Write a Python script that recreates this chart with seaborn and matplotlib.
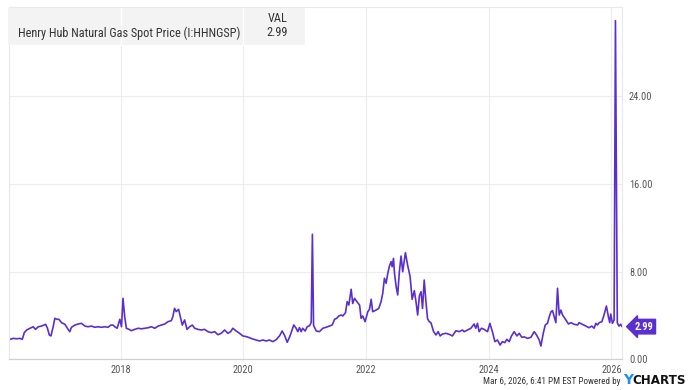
import matplotlib
matplotlib.use("Agg")
import matplotlib.pyplot as plt
from matplotlib import font_manager
from matplotlib.patches import Rectangle
import seaborn as sns
import pandas as pd

dates = [
    "2016-03-03", "2016-03-11", "2016-03-31", "2016-04-20", "2016-05-10", "2016-05-24",
    "2016-06-05", "2016-06-19", "2016-07-09", "2016-07-28", "2016-08-11", "2016-08-27",
    "2016-09-16", "2016-10-10", "2016-10-21", "2016-11-01", "2016-11-11", "2016-11-24",
    "2016-12-04", "2016-12-15", "2016-12-28", "2017-01-13", "2017-02-02", "2017-02-21",
    "2017-03-03", "2017-03-13", "2017-04-02", "2017-04-22", "2017-05-12", "2017-06-01",
    "2017-06-20", "2017-07-10", "2017-07-30", "2017-08-18", "2017-09-08", "2017-09-27",
    "2017-10-17", "2017-11-02", "2017-11-16", "2017-11-26", "2017-12-10", "2017-12-26",
    "2018-01-05", "2018-01-14", "2018-01-24", "2018-02-03", "2018-02-19", "2018-03-05",
    "2018-03-25", "2018-04-14", "2018-05-04", "2018-05-24", "2018-06-13", "2018-07-02",
    "2018-07-22", "2018-08-11", "2018-08-31", "2018-09-20", "2018-10-09", "2018-10-29",
    "2018-11-07", "2018-11-17", "2018-11-27", "2018-12-11", "2018-12-21", "2019-01-02",
    "2019-01-16", "2019-01-30", "2019-02-15", "2019-03-03", "2019-03-17", "2019-04-06",
    "2019-04-25", "2019-05-15", "2019-06-04", "2019-06-24", "2019-07-14", "2019-08-02",
    "2019-08-22", "2019-09-11", "2019-10-01", "2019-10-17", "2019-10-30", "2019-11-19",
    "2019-12-09", "2019-12-29", "2020-01-18", "2020-02-06", "2020-02-26", "2020-03-17",
    "2020-04-06", "2020-04-26", "2020-05-16", "2020-06-04", "2020-06-24", "2020-07-14",
    "2020-08-03", "2020-08-19", "2020-09-02", "2020-09-18", "2020-10-01", "2020-10-15",
    "2020-10-27", "2020-11-10", "2020-11-20", "2020-11-30", "2020-12-10", "2020-12-19",
    "2021-01-03", "2021-01-15", "2021-01-29", "2021-02-08", "2021-02-15", "2021-02-22",
    "2021-03-10", "2021-03-29", "2021-04-18", "2021-05-08", "2021-05-28", "2021-06-13",
    "2021-06-27", "2021-07-10", "2021-07-22", "2021-08-06", "2021-08-15", "2021-08-31",
    "2021-09-10", "2021-09-20", "2021-10-04", "2021-10-13", "2021-10-24", "2021-11-07",
    "2021-11-23", "2021-12-02", "2021-12-12", "2021-12-26", "2022-01-11", "2022-01-21",
    "2022-01-31", "2022-02-09", "2022-03-01", "2022-03-17", "2022-03-31", "2022-04-10",
    "2022-04-20", "2022-04-30", "2022-05-10", "2022-05-20", "2022-05-30", "2022-06-05",
    "2022-06-13", "2022-06-19", "2022-06-29", "2022-07-08", "2022-07-18", "2022-07-28",
    "2022-08-07", "2022-08-23", "2022-09-05", "2022-09-20", "2022-10-02", "2022-10-15",
    "2022-10-25", "2022-11-04", "2022-11-14", "2022-11-24", "2022-12-03", "2022-12-13",
    "2022-12-23", "2023-01-02", "2023-01-12", "2023-01-22", "2023-02-07", "2023-02-21",
    "2023-03-06", "2023-03-18", "2023-04-01", "2023-04-21", "2023-05-11", "2023-05-30",
    "2023-06-20", "2023-07-09", "2023-07-29", "2023-08-08", "2023-08-28", "2023-09-17",
    "2023-10-06", "2023-10-16", "2023-10-26", "2023-11-05", "2023-11-19", "2023-12-05",
    "2023-12-25", "2024-01-08", "2024-01-23", "2024-02-07", "2024-02-22", "2024-03-09",
    "2024-03-22", "2024-04-06", "2024-04-18", "2024-05-02", "2024-05-16", "2024-06-01",
    "2024-06-17", "2024-07-01", "2024-07-16", "2024-07-31", "2024-08-20", "2024-09-09",
    "2024-09-28", "2024-10-12", "2024-10-28", "2024-11-07", "2024-11-21", "2024-12-03",
    "2024-12-16", "2024-12-27", "2025-01-06", "2025-01-15", "2025-01-25", "2025-02-04",
    "2025-02-14", "2025-02-24", "2025-03-06", "2025-03-16", "2025-04-05", "2025-04-20",
    "2025-05-05", "2025-05-24", "2025-06-13", "2025-06-23", "2025-07-12", "2025-08-02",
    "2025-08-21", "2025-09-06", "2025-09-20", "2025-09-30", "2025-10-10", "2025-10-20",
    "2025-11-05", "2025-11-18", "2025-12-02", "2025-12-14", "2025-12-22", "2025-12-28",
    "2026-01-07", "2026-01-17", "2026-01-25", "2026-02-05", "2026-02-15", "2026-02-25",
    "2026-03-05",
]

prices = [
    1.62, 1.83, 1.92, 1.88, 1.92, 1.83,
    2.44, 2.68, 2.84, 2.98, 2.74, 2.98,
    3.04, 3.20, 2.84, 2.23, 2.14, 2.98,
    3.75, 3.66, 3.66, 3.35, 3.20, 2.74,
    2.53, 2.93, 3.13, 3.23, 3.29, 3.04,
    2.98, 3.04, 2.93, 2.98, 2.93, 2.98,
    2.93, 3.13, 3.13, 2.98, 2.84, 3.66,
    2.98, 5.57, 3.90, 2.84, 2.74, 2.62,
    2.74, 2.84, 2.79, 2.84, 2.89, 2.98,
    2.84, 3.04, 3.13, 3.23, 3.44, 3.54,
    3.90, 4.66, 4.36, 4.57, 3.90, 3.13,
    3.60, 2.74, 2.98, 3.13, 2.84, 2.74,
    2.68, 2.74, 2.53, 2.44, 2.53, 2.25,
    2.38, 2.68, 2.38, 2.53, 2.84, 2.59,
    2.38, 2.14, 2.08, 1.98, 1.86, 1.77,
    1.68, 1.77, 1.68, 1.77, 1.62, 1.80,
    2.14, 2.59, 2.20, 1.56, 2.00, 2.59,
    3.14, 2.84, 2.53, 2.90, 2.53, 2.84,
    2.59, 2.98, 3.07, 3.38, 11.41, 3.10,
    2.59, 2.53, 2.84, 2.93, 3.05, 3.14,
    3.66, 3.75, 3.96, 4.05, 3.96, 4.26,
    5.27, 4.96, 6.40, 5.10, 5.57, 5.27,
    4.96, 3.75, 3.96, 3.44, 4.35, 4.57,
    5.48, 4.35, 4.50, 4.65, 5.27, 6.03,
    7.40, 6.94, 7.86, 8.52, 8.92, 8.45,
    9.22, 7.86, 6.63, 5.88, 8.00, 9.43,
    8.00, 9.74, 8.61, 7.56, 5.48, 6.27,
    5.27, 4.05, 5.79, 6.18, 4.65, 7.24,
    5.30, 3.70, 3.44, 3.35, 2.53, 2.23,
    2.53, 2.14, 2.32, 2.38, 2.29, 2.14,
    2.62, 2.53, 2.68, 2.53, 2.68, 2.84,
    3.23, 2.84, 3.29, 2.53, 2.84, 2.74,
    2.53, 3.29, 2.53, 1.62, 1.77, 1.31,
    1.62, 1.53, 1.83, 1.62, 2.14, 2.53,
    2.14, 2.38, 2.02, 2.05, 1.92, 2.02,
    2.53, 2.23, 1.77, 1.22, 2.38, 3.14,
    3.29, 3.90, 4.35, 4.45, 3.90, 3.35,
    6.49, 4.05, 4.50, 4.05, 3.60, 3.23,
    3.35, 3.20, 3.14, 3.35, 3.20, 3.04,
    2.89, 3.04, 2.84, 3.29, 3.14, 3.35,
    3.44, 4.05, 4.87, 3.90, 3.35, 4.14,
    3.29, 3.60, 30.90, 3.35, 3.04, 3.20,
    2.99,
]

y_ticks = [0, 8, 16, 24]
y_tick_labels = ["0.00", "8.00", "16.00", "24.00"]
x_tick_years = ["2018", "2020", "2022", "2024", "2026"]
series_name = "Henry Hub Natural Gas Spot Price (I:HHNGSP)"
last_value = "2.99"

LINE = "#5a2fd0"
GRID = "#ececec"
TXT = "#555555"

sns.set_theme(style="white")
available = {f.name for f in font_manager.fontManager.ttflist}
fam = "Roboto Condensed" if "Roboto Condensed" in available else "Roboto"
plt.rcParams["font.family"] = [fam, "DejaVu Sans"]

df = pd.DataFrame({"date": pd.to_datetime(dates), "price": prices})

fig = plt.figure(figsize=(6.9, 3.9), dpi=100)
ax = fig.add_axes([8.5 / 690, 1 - 359.4 / 390, (622 - 8.5) / 690, (359.4 - 7) / 390])

sns.lineplot(data=df, x="date", y="price", ax=ax, color=LINE, linewidth=1.2)

ax.set_xlim(pd.Timestamp("2016-03-03"), pd.Timestamp("2026-03-05"))
ax.set_ylim(0, 32.15)
ax.set_xlabel("")
ax.set_ylabel("")

ax.set_yticks(y_ticks)
ax.set_yticklabels(y_tick_labels)
ax.yaxis.tick_right()
ax.tick_params(axis="y", length=0, pad=5, labelsize=7.5, labelcolor=TXT)

xt = [pd.Timestamp(f"{y}-01-01") for y in x_tick_years]
ax.set_xticks(xt)
ax.set_xticklabels(x_tick_years)
ax.tick_params(axis="x", length=0, pad=4, labelsize=7.5, labelcolor=TXT)

ax.grid(True, color=GRID, linewidth=0.8)
ax.set_axisbelow(True)
for s in ["top", "right", "left"]:
    ax.spines[s].set_color("#e8e8e8")
    ax.spines[s].set_linewidth(0.8)
ax.spines["bottom"].set_color("#d0d0d0")
ax.spines["bottom"].set_linewidth(0.9)

# last value tag
ax.annotate(last_value, xy=(1, 2.99), xycoords=("axes fraction", "data"),
            xytext=(9, 0), textcoords="offset points", ha="left", va="center",
            color="white", fontsize=7.5, fontweight="bold",
            bbox=dict(boxstyle="larrow,pad=0.22", fc=LINE, ec=LINE))

# legend table box
fig.patches.append(Rectangle((8 / 690, 1 - 45 / 390), 297 / 690, 37 / 390,
                             transform=fig.transFigure, fc="#f3f3f3", ec="none", zorder=5))
for xs in [120.5, 243]:
    fig.lines.append(plt.Line2D([xs / 690, xs / 690], [1 - 45 / 390, 1 - 8 / 390],
                                transform=fig.transFigure, color="white", lw=1, zorder=6))
fig.text(17.5 / 690, 1 - 33 / 390, series_name, ha="left", va="center",
         fontsize=8.8, color="#333333", zorder=7)
fig.text(277.5 / 690, 1 - 19 / 390, "VAL", ha="center", va="center",
         fontsize=8.8, color="#333333", zorder=7)
fig.text(277.5 / 690, 1 - 33 / 390, last_value, ha="center", va="center",
         fontsize=8.8, color="#333333", zorder=7)

# footer
fig.text(620 / 690, 1 - 381 / 390, "Mar 6, 2026, 6:41 PM EST Powered by", ha="right",
         va="center", fontsize=6.6, color="#333333")
fig.text(623 / 690, 1 - 380.5 / 390, "Y", ha="left", va="center", fontsize=10,
         fontweight="bold", color="#1d8df2", family=["DejaVu Sans"])
fig.text(632 / 690, 1 - 380.5 / 390, "CHARTS", ha="left", va="center", fontsize=8.6,
         fontweight="bold", color="#111111", family=["DejaVu Sans"])

fig.savefig("out.png", dpi=100)
